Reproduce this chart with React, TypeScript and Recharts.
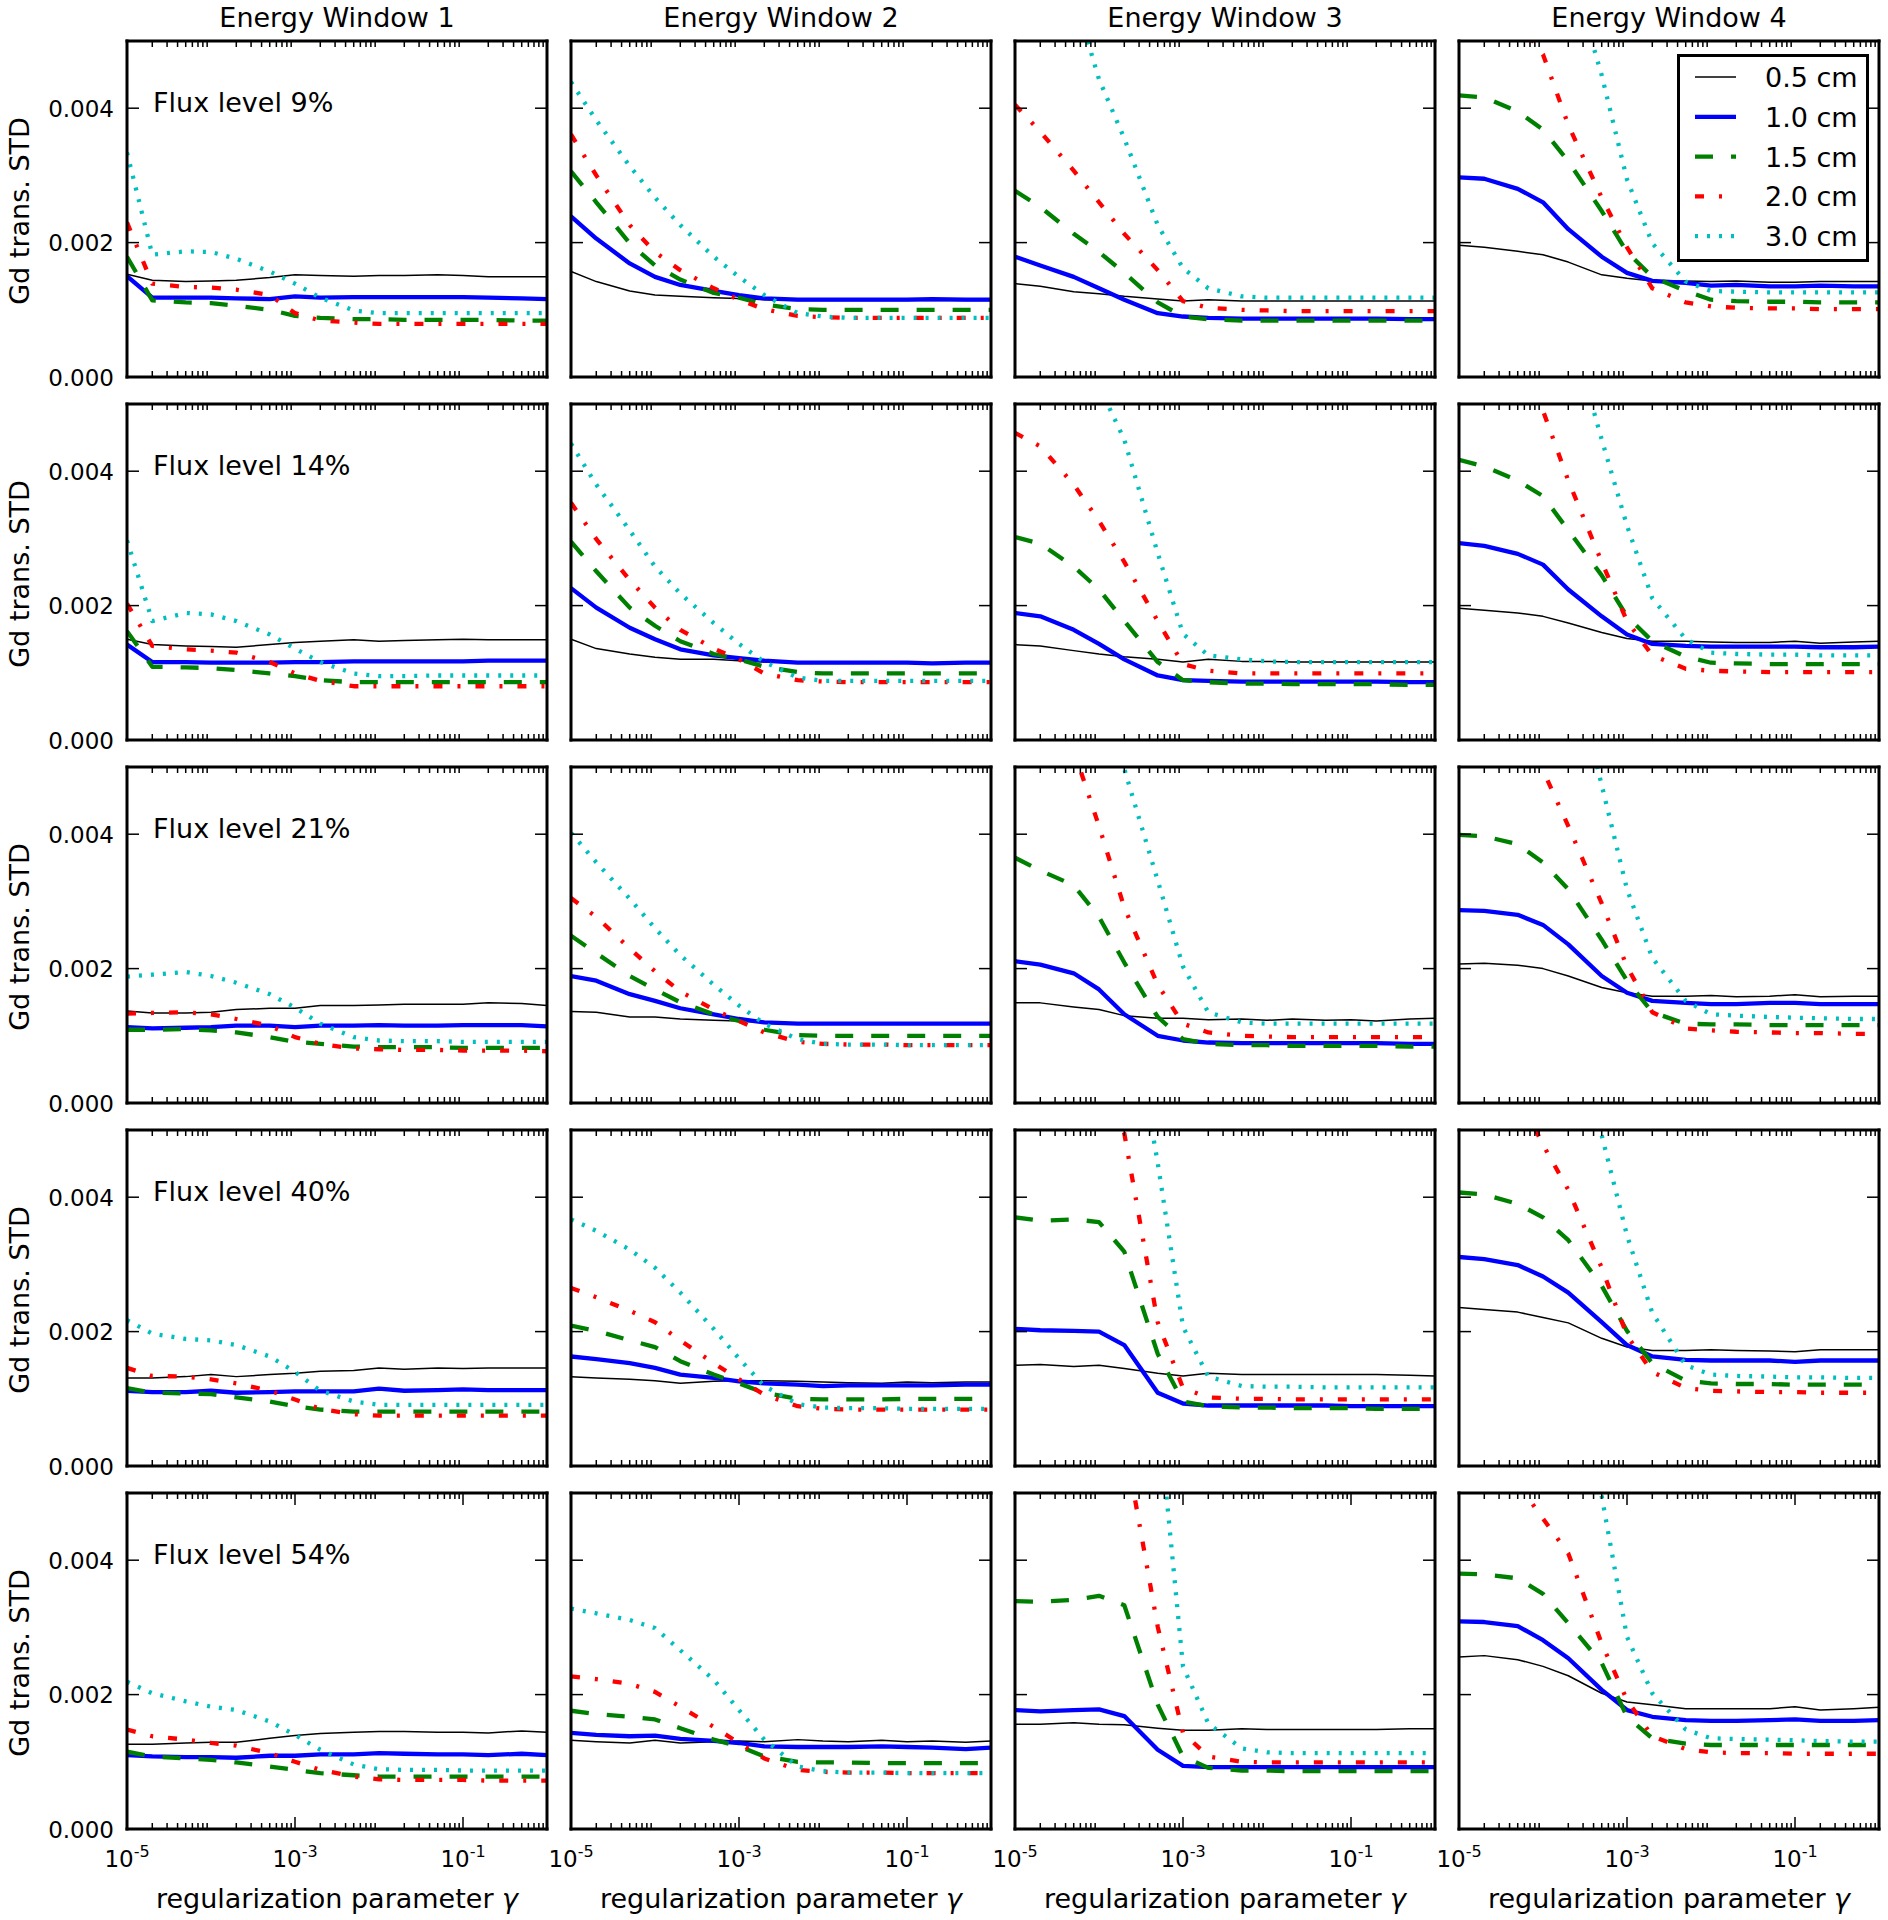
import React from 'react';
import { LineChart, Line, XAxis, YAxis, Legend } from 'recharts';

// regularization parameter gamma (sample points)
const GAMMA = [1e-5, 2e-5, 5e-5, 1e-4, 2e-4, 5e-4, 1e-3, 2e-3, 5e-3, 1e-2, 2e-2, 5e-2, 1e-1, 2e-1, 5e-1, 1];
// all series values below are in units of 1e-3
const UNIT = 1e-3;

const WINDOWS = ['Energy Window 1', 'Energy Window 2', 'Energy Window 3', 'Energy Window 4'];
const FLUX = ['9%', '14%', '21%', '40%', '54%'];
const SERIES_NAMES = ['0.5 cm', '1.0 cm', '1.5 cm', '2.0 cm', '3.0 cm'];
const SERIES_COLORS = ['#000000', '#0000ff', '#008000', '#ff0000', '#00bfbf'];
const SERIES_WIDTHS = [1.5, 4.3, 4.3, 4.3, 4.3];
const SERIES_DASH = ['', '', '18 18', '9 15 3 15', '3 9'];

const Y_TICKS = [0, 0.002, 0.004];
const X_MAJOR = [1e-5, 1e-3, 1e-1];
const X_MAJOR_EXP = ['-5', '-3', '-1'];
const X_MINOR = [
  2e-5, 3e-5, 4e-5, 5e-5, 6e-5, 7e-5, 8e-5, 9e-5,
  2e-4, 3e-4, 4e-4, 5e-4, 6e-4, 7e-4, 8e-4, 9e-4,
  2e-3, 3e-3, 4e-3, 5e-3, 6e-3, 7e-3, 8e-3, 9e-3,
  2e-2, 3e-2, 4e-2, 5e-2, 6e-2, 7e-2, 8e-2, 9e-2,
  2e-1, 3e-1, 4e-1, 5e-1, 6e-1, 7e-1, 8e-1, 9e-1,
];

// ---- Flux level 9% ----
const W1_F9 = [
  [1.53, 1.44, 1.42, 1.43, 1.44, 1.48, 1.52, 1.51, 1.50, 1.51, 1.51, 1.52, 1.51, 1.49, 1.49, 1.49],
  [1.50, 1.18, 1.18, 1.18, 1.17, 1.16, 1.20, 1.18, 1.19, 1.19, 1.19, 1.19, 1.19, 1.18, 1.17, 1.16],
  [1.79, 1.14, 1.11, 1.10, 1.06, 1.00, 0.91, 0.88, 0.86, 0.86, 0.85, 0.85, 0.85, 0.85, 0.84, 0.84],
  [2.30, 1.39, 1.34, 1.33, 1.30, 1.22, 0.95, 0.84, 0.81, 0.79, 0.79, 0.79, 0.79, 0.79, 0.79, 0.79],
  [3.34, 1.82, 1.87, 1.86, 1.76, 1.57, 1.39, 1.18, 0.99, 0.95, 0.95, 0.95, 0.95, 0.95, 0.95, 0.95],
];
const W2_F9 = [
  [1.57, 1.42, 1.28, 1.22, 1.20, 1.18, 1.17, 1.15, 1.14, 1.14, 1.14, 1.14, 1.14, 1.14, 1.14, 1.14],
  [2.39, 2.06, 1.69, 1.49, 1.37, 1.28, 1.22, 1.17, 1.15, 1.15, 1.15, 1.15, 1.15, 1.16, 1.15, 1.15],
  [3.06, 2.60, 1.99, 1.66, 1.45, 1.25, 1.18, 1.08, 1.01, 1.00, 1.00, 1.00, 1.00, 1.00, 1.00, 1.00],
  [3.61, 3.00, 2.26, 1.86, 1.59, 1.32, 1.15, 1.01, 0.91, 0.89, 0.88, 0.88, 0.88, 0.88, 0.88, 0.88],
  [4.39, 3.82, 3.14, 2.67, 2.26, 1.79, 1.49, 1.22, 0.95, 0.90, 0.88, 0.88, 0.88, 0.88, 0.88, 0.88],
];
const W3_F9 = [
  [1.39, 1.35, 1.27, 1.24, 1.20, 1.16, 1.13, 1.15, 1.13, 1.13, 1.13, 1.13, 1.13, 1.13, 1.13, 1.13],
  [1.79, 1.66, 1.49, 1.32, 1.15, 0.95, 0.90, 0.88, 0.87, 0.87, 0.87, 0.87, 0.87, 0.87, 0.86, 0.86],
  [2.77, 2.53, 2.13, 1.86, 1.55, 1.11, 0.90, 0.86, 0.84, 0.84, 0.84, 0.84, 0.84, 0.84, 0.84, 0.84],
  [4.05, 3.65, 3.07, 2.60, 2.13, 1.59, 1.13, 1.03, 1.00, 0.99, 0.98, 0.98, 0.98, 0.98, 0.98, 0.98],
  [6.80, 6.30, 5.70, 4.43, 3.55, 2.26, 1.62, 1.32, 1.20, 1.18, 1.18, 1.18, 1.18, 1.18, 1.18, 1.18],
];
const W4_F9 = [
  [1.96, 1.93, 1.87, 1.82, 1.71, 1.52, 1.47, 1.43, 1.43, 1.42, 1.43, 1.41, 1.41, 1.42, 1.42, 1.42],
  [2.97, 2.95, 2.80, 2.60, 2.20, 1.79, 1.55, 1.43, 1.40, 1.36, 1.37, 1.35, 1.35, 1.36, 1.35, 1.35],
  [4.19, 4.16, 3.95, 3.68, 3.21, 2.47, 1.86, 1.49, 1.28, 1.15, 1.13, 1.12, 1.12, 1.11, 1.11, 1.11],
  [6.20, 5.80, 5.30, 4.80, 3.75, 2.67, 1.93, 1.32, 1.11, 1.05, 1.03, 1.02, 1.02, 1.01, 1.01, 1.01],
  [9.00, 8.50, 7.80, 7.00, 6.20, 4.49, 2.94, 1.99, 1.42, 1.28, 1.27, 1.26, 1.26, 1.26, 1.26, 1.26],
];

// ---- Flux level 14% ----
const W1_F14 = [
  [1.50, 1.42, 1.40, 1.39, 1.38, 1.42, 1.45, 1.47, 1.49, 1.47, 1.48, 1.49, 1.50, 1.49, 1.49, 1.49],
  [1.42, 1.16, 1.16, 1.15, 1.15, 1.15, 1.16, 1.16, 1.17, 1.17, 1.17, 1.17, 1.17, 1.18, 1.18, 1.18],
  [1.62, 1.09, 1.08, 1.07, 1.04, 0.99, 0.95, 0.89, 0.86, 0.86, 0.86, 0.86, 0.86, 0.86, 0.86, 0.86],
  [2.03, 1.40, 1.35, 1.33, 1.30, 1.16, 0.99, 0.88, 0.80, 0.80, 0.80, 0.80, 0.80, 0.80, 0.80, 0.80],
  [2.97, 1.77, 1.89, 1.87, 1.77, 1.57, 1.36, 1.16, 0.99, 0.95, 0.95, 0.96, 0.96, 0.96, 0.96, 0.96],
];
const W2_F14 = [
  [1.50, 1.36, 1.28, 1.23, 1.20, 1.20, 1.18, 1.16, 1.15, 1.15, 1.15, 1.15, 1.15, 1.15, 1.15, 1.15],
  [2.26, 1.97, 1.67, 1.50, 1.35, 1.26, 1.22, 1.18, 1.15, 1.15, 1.15, 1.15, 1.15, 1.14, 1.15, 1.15],
  [2.95, 2.51, 1.97, 1.70, 1.47, 1.28, 1.20, 1.09, 1.01, 0.99, 0.99, 0.99, 0.99, 0.99, 0.99, 0.99],
  [3.53, 2.99, 2.38, 1.97, 1.64, 1.36, 1.20, 0.99, 0.89, 0.87, 0.86, 0.86, 0.86, 0.86, 0.86, 0.86],
  [4.41, 3.80, 3.12, 2.58, 2.18, 1.74, 1.43, 1.16, 0.93, 0.88, 0.88, 0.88, 0.88, 0.88, 0.88, 0.88],
];
const W3_F14 = [
  [1.42, 1.40, 1.33, 1.28, 1.24, 1.20, 1.16, 1.20, 1.17, 1.17, 1.16, 1.16, 1.16, 1.16, 1.16, 1.16],
  [1.89, 1.84, 1.64, 1.43, 1.20, 0.96, 0.89, 0.88, 0.87, 0.87, 0.87, 0.87, 0.87, 0.87, 0.86, 0.86],
  [3.02, 2.92, 2.58, 2.24, 1.77, 1.16, 0.89, 0.86, 0.84, 0.84, 0.83, 0.83, 0.83, 0.83, 0.82, 0.82],
  [4.57, 4.37, 3.80, 3.26, 2.65, 1.77, 1.13, 1.03, 0.99, 0.99, 0.99, 0.99, 0.99, 0.99, 0.99, 0.99],
  [7.20, 6.80, 6.00, 5.27, 4.47, 2.78, 1.58, 1.26, 1.20, 1.17, 1.16, 1.16, 1.16, 1.16, 1.16, 1.16],
];
const W4_F14 = [
  [1.96, 1.93, 1.89, 1.84, 1.74, 1.60, 1.51, 1.47, 1.47, 1.46, 1.45, 1.45, 1.47, 1.44, 1.46, 1.47],
  [2.93, 2.89, 2.77, 2.61, 2.24, 1.84, 1.57, 1.43, 1.40, 1.39, 1.39, 1.39, 1.39, 1.38, 1.38, 1.39],
  [4.17, 4.07, 3.86, 3.63, 3.12, 2.45, 1.84, 1.47, 1.24, 1.15, 1.14, 1.13, 1.13, 1.13, 1.13, 1.13],
  [7.00, 6.50, 5.80, 4.90, 3.86, 2.65, 1.77, 1.26, 1.06, 1.03, 1.02, 1.01, 1.01, 1.01, 1.01, 1.01],
  [9.00, 8.50, 7.80, 7.00, 6.24, 4.47, 3.19, 2.11, 1.50, 1.30, 1.28, 1.27, 1.27, 1.26, 1.26, 1.26],
];

// ---- Flux level 21% ----
const W1_F21 = [
  [1.37, 1.34, 1.34, 1.35, 1.39, 1.41, 1.41, 1.45, 1.45, 1.46, 1.47, 1.47, 1.47, 1.49, 1.48, 1.45],
  [1.13, 1.11, 1.12, 1.13, 1.15, 1.15, 1.13, 1.15, 1.15, 1.16, 1.15, 1.15, 1.16, 1.16, 1.16, 1.14],
  [1.09, 1.09, 1.10, 1.08, 1.05, 0.98, 0.91, 0.88, 0.84, 0.83, 0.83, 0.83, 0.82, 0.82, 0.82, 0.82],
  [1.33, 1.34, 1.35, 1.32, 1.25, 1.15, 0.98, 0.88, 0.81, 0.80, 0.79, 0.79, 0.78, 0.78, 0.78, 0.77],
  [1.88, 1.91, 1.95, 1.89, 1.79, 1.62, 1.42, 1.18, 0.98, 0.93, 0.92, 0.92, 0.91, 0.91, 0.91, 0.91],
];
const W2_F21 = [
  [1.36, 1.35, 1.28, 1.28, 1.25, 1.23, 1.22, 1.20, 1.19, 1.19, 1.19, 1.19, 1.19, 1.19, 1.19, 1.19],
  [1.89, 1.82, 1.62, 1.52, 1.41, 1.32, 1.25, 1.20, 1.18, 1.18, 1.18, 1.18, 1.18, 1.18, 1.18, 1.18],
  [2.49, 2.23, 1.89, 1.69, 1.50, 1.32, 1.22, 1.09, 1.01, 1.00, 1.00, 1.00, 1.00, 1.00, 1.00, 1.00],
  [3.05, 2.77, 2.30, 1.96, 1.66, 1.39, 1.22, 1.05, 0.91, 0.88, 0.87, 0.87, 0.86, 0.86, 0.86, 0.86],
  [4.02, 3.58, 3.04, 2.60, 2.20, 1.76, 1.45, 1.18, 0.95, 0.88, 0.87, 0.87, 0.86, 0.86, 0.86, 0.86],
];
const W3_F21 = [
  [1.49, 1.49, 1.43, 1.39, 1.30, 1.26, 1.26, 1.24, 1.25, 1.23, 1.25, 1.23, 1.24, 1.22, 1.25, 1.26],
  [2.11, 2.06, 1.93, 1.69, 1.32, 1.00, 0.93, 0.90, 0.89, 0.89, 0.89, 0.89, 0.89, 0.89, 0.88, 0.88],
  [3.65, 3.46, 3.24, 2.77, 2.09, 1.28, 0.95, 0.88, 0.86, 0.86, 0.85, 0.85, 0.85, 0.85, 0.84, 0.84],
  [6.50, 6.00, 5.25, 4.12, 2.91, 1.76, 1.18, 1.05, 1.00, 0.99, 0.98, 0.98, 0.98, 0.98, 0.98, 0.98],
  [8.30, 7.80, 7.00, 6.00, 4.97, 3.31, 2.03, 1.35, 1.20, 1.18, 1.18, 1.18, 1.18, 1.18, 1.18, 1.18],
];
const W4_F21 = [
  [2.07, 2.08, 2.05, 2.00, 1.89, 1.72, 1.64, 1.59, 1.59, 1.60, 1.58, 1.59, 1.61, 1.58, 1.59, 1.59],
  [2.87, 2.86, 2.80, 2.65, 2.36, 1.89, 1.64, 1.52, 1.49, 1.47, 1.47, 1.49, 1.49, 1.47, 1.47, 1.47],
  [3.99, 3.97, 3.85, 3.58, 3.18, 2.43, 1.82, 1.35, 1.18, 1.17, 1.17, 1.16, 1.16, 1.16, 1.16, 1.16],
  [6.90, 6.40, 5.80, 4.95, 4.12, 2.97, 2.03, 1.35, 1.11, 1.08, 1.06, 1.05, 1.04, 1.04, 1.03, 1.03],
  [9.50, 9.00, 8.30, 7.50, 6.80, 4.73, 3.18, 2.16, 1.52, 1.32, 1.30, 1.28, 1.27, 1.26, 1.25, 1.25],
];

// ---- Flux level 40% ----
const W1_F40 = [
  [1.31, 1.31, 1.33, 1.36, 1.33, 1.36, 1.38, 1.41, 1.42, 1.46, 1.44, 1.46, 1.45, 1.46, 1.46, 1.46],
  [1.12, 1.10, 1.10, 1.12, 1.09, 1.10, 1.11, 1.11, 1.11, 1.15, 1.12, 1.13, 1.14, 1.13, 1.13, 1.13],
  [1.16, 1.09, 1.08, 1.07, 1.02, 0.96, 0.89, 0.84, 0.81, 0.81, 0.81, 0.81, 0.81, 0.81, 0.81, 0.81],
  [1.46, 1.34, 1.33, 1.29, 1.23, 1.12, 0.99, 0.85, 0.77, 0.75, 0.75, 0.75, 0.75, 0.75, 0.75, 0.75],
  [2.17, 1.97, 1.89, 1.87, 1.80, 1.63, 1.40, 1.12, 0.96, 0.91, 0.91, 0.91, 0.91, 0.91, 0.91, 0.91],
];
const W2_F40 = [
  [1.33, 1.31, 1.29, 1.27, 1.23, 1.26, 1.27, 1.27, 1.26, 1.25, 1.24, 1.23, 1.25, 1.24, 1.25, 1.25],
  [1.63, 1.59, 1.53, 1.46, 1.36, 1.31, 1.26, 1.23, 1.21, 1.19, 1.20, 1.20, 1.20, 1.20, 1.21, 1.21],
  [2.09, 2.01, 1.87, 1.77, 1.56, 1.36, 1.23, 1.09, 1.00, 0.99, 0.99, 0.99, 1.00, 1.00, 1.00, 1.00],
  [2.65, 2.51, 2.31, 2.14, 1.87, 1.53, 1.29, 1.06, 0.89, 0.85, 0.84, 0.84, 0.84, 0.84, 0.84, 0.84],
  [3.67, 3.50, 3.22, 2.95, 2.58, 2.04, 1.60, 1.19, 0.92, 0.87, 0.86, 0.86, 0.85, 0.85, 0.85, 0.85],
];
const W3_F40 = [
  [1.50, 1.51, 1.48, 1.50, 1.45, 1.38, 1.34, 1.38, 1.36, 1.36, 1.36, 1.36, 1.36, 1.36, 1.35, 1.34],
  [2.04, 2.02, 2.01, 2.00, 1.80, 1.09, 0.93, 0.90, 0.90, 0.90, 0.90, 0.90, 0.89, 0.89, 0.89, 0.89],
  [3.70, 3.65, 3.67, 3.63, 3.19, 1.67, 0.96, 0.89, 0.87, 0.87, 0.86, 0.86, 0.86, 0.85, 0.85, 0.85],
  [9.00, 8.50, 7.20, 6.20, 4.95, 2.14, 1.16, 1.02, 1.00, 1.00, 0.99, 0.99, 0.99, 0.99, 0.99, 0.99],
  [10.0, 9.50, 9.00, 8.50, 7.40, 4.51, 2.07, 1.33, 1.19, 1.18, 1.18, 1.17, 1.17, 1.17, 1.17, 1.17],
];
const W4_F40 = [
  [2.36, 2.33, 2.29, 2.21, 2.13, 1.90, 1.77, 1.72, 1.72, 1.73, 1.72, 1.71, 1.70, 1.73, 1.73, 1.73],
  [3.11, 3.08, 2.99, 2.82, 2.58, 2.14, 1.80, 1.63, 1.58, 1.57, 1.57, 1.57, 1.55, 1.57, 1.57, 1.57],
  [4.07, 4.04, 3.90, 3.70, 3.36, 2.68, 2.01, 1.53, 1.27, 1.23, 1.22, 1.22, 1.21, 1.21, 1.21, 1.21],
  [6.50, 6.10, 5.54, 4.78, 4.11, 2.95, 1.94, 1.40, 1.16, 1.12, 1.11, 1.10, 1.10, 1.09, 1.09, 1.09],
  [9.00, 8.50, 7.80, 7.20, 6.50, 4.92, 3.43, 2.28, 1.50, 1.36, 1.34, 1.33, 1.32, 1.32, 1.31, 1.31],
];

// ---- Flux level 54% ----
const W1_F54 = [
  [1.26, 1.26, 1.28, 1.29, 1.29, 1.35, 1.39, 1.42, 1.44, 1.45, 1.45, 1.44, 1.44, 1.43, 1.46, 1.44],
  [1.10, 1.08, 1.07, 1.07, 1.06, 1.09, 1.09, 1.11, 1.11, 1.13, 1.12, 1.11, 1.11, 1.10, 1.12, 1.10],
  [1.15, 1.08, 1.05, 1.03, 0.99, 0.93, 0.88, 0.83, 0.80, 0.78, 0.78, 0.78, 0.78, 0.78, 0.78, 0.78],
  [1.48, 1.38, 1.33, 1.28, 1.24, 1.13, 1.00, 0.88, 0.78, 0.74, 0.73, 0.73, 0.73, 0.72, 0.72, 0.72],
  [2.19, 2.02, 1.90, 1.82, 1.77, 1.60, 1.40, 1.18, 0.96, 0.89, 0.88, 0.88, 0.87, 0.87, 0.87, 0.87],
];
const W2_F54 = [
  [1.32, 1.30, 1.28, 1.32, 1.28, 1.30, 1.31, 1.30, 1.33, 1.31, 1.30, 1.32, 1.30, 1.31, 1.29, 1.31],
  [1.43, 1.40, 1.38, 1.39, 1.34, 1.31, 1.28, 1.23, 1.22, 1.22, 1.22, 1.23, 1.22, 1.21, 1.19, 1.21],
  [1.76, 1.71, 1.67, 1.63, 1.50, 1.33, 1.23, 1.08, 1.00, 0.99, 0.99, 0.98, 0.98, 0.98, 0.98, 0.98],
  [2.27, 2.23, 2.16, 2.04, 1.82, 1.52, 1.28, 1.05, 0.88, 0.85, 0.84, 0.84, 0.83, 0.83, 0.83, 0.83],
  [3.28, 3.21, 3.11, 2.99, 2.66, 2.22, 1.77, 1.33, 0.93, 0.86, 0.84, 0.84, 0.83, 0.83, 0.83, 0.83],
];
const W3_F54 = [
  [1.56, 1.56, 1.58, 1.56, 1.55, 1.50, 1.47, 1.47, 1.49, 1.48, 1.48, 1.48, 1.48, 1.48, 1.49, 1.49],
  [1.77, 1.75, 1.77, 1.78, 1.68, 1.18, 0.94, 0.92, 0.92, 0.92, 0.92, 0.92, 0.92, 0.92, 0.92, 0.92],
  [3.39, 3.38, 3.41, 3.47, 3.33, 1.85, 1.08, 0.91, 0.87, 0.87, 0.86, 0.86, 0.86, 0.86, 0.86, 0.86],
  [8.00, 7.50, 7.00, 6.80, 5.80, 3.01, 1.43, 1.08, 1.00, 0.99, 0.99, 0.99, 0.99, 0.99, 0.99, 0.99],
  [10.0, 9.50, 9.00, 8.50, 8.00, 6.30, 2.42, 1.57, 1.20, 1.14, 1.13, 1.13, 1.13, 1.13, 1.13, 1.13],
];
const W4_F54 = [
  [2.56, 2.58, 2.52, 2.42, 2.28, 2.02, 1.89, 1.85, 1.79, 1.79, 1.79, 1.79, 1.82, 1.77, 1.79, 1.81],
  [3.09, 3.08, 3.02, 2.81, 2.54, 2.07, 1.77, 1.67, 1.62, 1.61, 1.61, 1.62, 1.63, 1.61, 1.61, 1.62],
  [3.80, 3.79, 3.73, 3.50, 3.06, 2.47, 1.67, 1.35, 1.27, 1.25, 1.25, 1.25, 1.25, 1.25, 1.25, 1.25],
  [6.00, 5.60, 5.14, 4.62, 4.10, 2.76, 1.92, 1.38, 1.19, 1.14, 1.13, 1.13, 1.12, 1.12, 1.12, 1.12],
  [9.00, 8.50, 8.00, 7.50, 6.50, 4.95, 2.86, 2.02, 1.48, 1.35, 1.34, 1.33, 1.32, 1.31, 1.30, 1.30],
];

const PANELS = [
  [W1_F9, W2_F9, W3_F9, W4_F9],
  [W1_F14, W2_F14, W3_F14, W4_F14],
  [W1_F21, W2_F21, W3_F21, W4_F21],
  [W1_F40, W2_F40, W3_F40, W4_F40],
  [W1_F54, W2_F54, W3_F54, W4_F54],
];

// ---- layout ----
const PW = 420;
const PH = 336;
const COL_X0 = 127;
const COL_STEP = 444;
const ROW_Y0 = 41;
const ROW_STEP = 363;
const AX = 2; // thickness reserved by each axis box
const FONT = '"DejaVu Sans", sans-serif';

function buildRows(panel: number[][]) {
  return GAMMA.map((g, i) => {
    const row: Record<string, number> = { g };
    panel.forEach((s, k) => {
      row['s' + k] = s[i] * UNIT;
    });
    return row;
  });
}

const makeXTick = (edge: number, dir: number, showLabel: boolean) => (props: any) => {
  const { x, payload } = props;
  const v = payload.value;
  const mi = X_MAJOR.indexOf(v);
  const len = mi >= 0 ? 12 : 6;
  return (
    <g>
      <line x1={x} x2={x} y1={edge} y2={edge + dir * len} stroke="#000" strokeWidth={1.5} />
      {showLabel && mi >= 0 ? (
        <text x={x} y={edge + 38} textAnchor="middle" fontSize={23} fontFamily={FONT} fill="#000">
          10
          <tspan dy={-10} fontSize={16}>{X_MAJOR_EXP[mi]}</tspan>
        </text>
      ) : null}
    </g>
  );
};

const makeYTick = (edge: number, dir: number, showLabel: boolean) => (props: any) => {
  const { y, payload } = props;
  const v = payload.value;
  return (
    <g>
      {v > 0 ? <line x1={edge} x2={edge + dir * 12} y1={y} y2={y} stroke="#000" strokeWidth={1.5} /> : null}
      {showLabel ? (
        <text x={edge - 13} y={y + 8.5} textAnchor="end" fontSize={23} fontFamily={FONT} fill="#000">
          {v.toFixed(3)}
        </text>
      ) : null}
    </g>
  );
};

const LegendBox = () => (
  <div
    style={{
      width: 192,
      height: 208,
      boxSizing: 'border-box',
      border: '3px solid #000',
      background: '#fff',
      position: 'relative',
    }}
  >
    <svg width={192} height={208} style={{ position: 'absolute', left: -3, top: -3 }}>
      {SERIES_NAMES.map((name, k) => {
        const cy = 23 + k * 39.8;
        return (
          <g key={name}>
            <line
              x1={18}
              x2={59}
              y1={cy}
              y2={cy}
              stroke={SERIES_COLORS[k]}
              strokeWidth={SERIES_WIDTHS[k]}
              strokeDasharray={SERIES_DASH[k] || undefined}
            />
            <text x={88} y={cy + 10} fontSize={27} fontFamily={FONT} fill="#000">
              {name}
            </text>
          </g>
        );
      })}
    </svg>
  </div>
);

const frame = { stroke: '#000', strokeWidth: 3, strokeLinecap: 'square' as const };

function Panel({ r, c }: { r: number; c: number }) {
  const mL = c === 0 ? COL_X0 : 12;
  const mR = 12;
  const mT = 12;
  const mB = r === 4 ? 60 : 12;
  const left = COL_X0 + c * COL_STEP - mL;
  const top = ROW_Y0 + r * ROW_STEP - mT;
  const width = mL + PW + mR;
  const height = mT + PH + mB;
  const data = buildRows(PANELS[r][c]);
  const xTicks = r === 4 ? [...X_MAJOR, ...X_MINOR] : X_MINOR;
  const common = {
    allowDataOverflow: true,
    interval: 0 as const,
    tickSize: 0,
    tickMargin: 0,
    tickLine: false,
    axisLine: frame,
    type: 'number' as const,
  };
  return (
    <div style={{ position: 'absolute', left, top, width, height, overflow: 'visible' }}>
      <LineChart
        width={width}
        height={height}
        data={data}
        margin={{ top: mT - AX, right: mR - AX, bottom: mB - AX, left: mL - AX }}
      >
        <XAxis
          {...common}
          xAxisId="b"
          dataKey="g"
          scale="log"
          domain={[1e-5, 1]}
          ticks={xTicks}
          height={AX}
          tick={makeXTick(mT + PH, -1, r === 4)}
        />
        <XAxis
          {...common}
          xAxisId="t"
          orientation="top"
          dataKey="g"
          scale="log"
          domain={[1e-5, 1]}
          ticks={xTicks}
          height={AX}
          tick={makeXTick(mT, 1, false)}
        />
        <YAxis
          {...common}
          yAxisId="l"
          domain={[0, 0.005]}
          ticks={Y_TICKS}
          width={AX}
          tick={makeYTick(mL, 1, c === 0)}
        />
        <YAxis
          {...common}
          yAxisId="r"
          orientation="right"
          domain={[0, 0.005]}
          ticks={Y_TICKS}
          width={AX}
          tick={makeYTick(mL + PW, -1, false)}
        />
        {SERIES_NAMES.map((name, k) => (
          <Line
            key={name}
            name={name}
            xAxisId="b"
            yAxisId="l"
            dataKey={'s' + k}
            type="linear"
            stroke={SERIES_COLORS[k]}
            strokeWidth={SERIES_WIDTHS[k]}
            strokeDasharray={SERIES_DASH[k] || undefined}
            strokeLinejoin="round"
            dot={false}
            activeDot={false}
            isAnimationActive={false}
          />
        ))}
        {r === 0 && c === 3 ? (
          <Legend
            layout="vertical"
            align="center"
            verticalAlign="middle"
            wrapperStyle={{ left: 1677 - left, top: 54 - top, width: 192, height: 208 }}
            content={() => <LegendBox />}
          />
        ) : null}
      </LineChart>
    </div>
  );
}

export default function App() {
  return (
    <div
      style={{
        position: 'absolute',
        left: 0,
        top: 0,
        width: 1888,
        height: 1920,
        background: '#fff',
        fontFamily: FONT,
        overflow: 'hidden',
      }}
    >
      <style>{'.recharts-surface{overflow:visible !important}.recharts-wrapper{overflow:visible !important}'}</style>
      {PANELS.map((row, r) => row.map((_, c) => <Panel key={r + '-' + c} r={r} c={c} />))}
      <svg
        width={1888}
        height={1920}
        style={{ position: 'absolute', left: 0, top: 0, pointerEvents: 'none' }}
        fontFamily={FONT}
      >
        {WINDOWS.map((w, c) => (
          <text key={w} x={COL_X0 + c * COL_STEP + PW / 2} y={27} textAnchor="middle" fontSize={27} fill="#000">
            {w}
          </text>
        ))}
        {FLUX.map((f, r) => (
          <g key={f}>
            <text x={COL_X0 + 26} y={ROW_Y0 + r * ROW_STEP + 71} fontSize={27} fill="#000">
              {'Flux level ' + f}
            </text>
            <text
              transform={`translate(29, ${ROW_Y0 + r * ROW_STEP + PH / 2 + 2}) rotate(-90)`}
              textAnchor="middle"
              fontSize={27}
              fill="#000"
            >
              Gd trans. STD
            </text>
          </g>
        ))}
        {WINDOWS.map((w, c) => (
          <text key={'xl' + c} x={COL_X0 + c * COL_STEP + PW / 2} y={1908} textAnchor="middle" fontSize={27} fill="#000">
            regularization parameter <tspan fontStyle="italic">γ</tspan>
          </text>
        ))}
      </svg>
    </div>
  );
}
